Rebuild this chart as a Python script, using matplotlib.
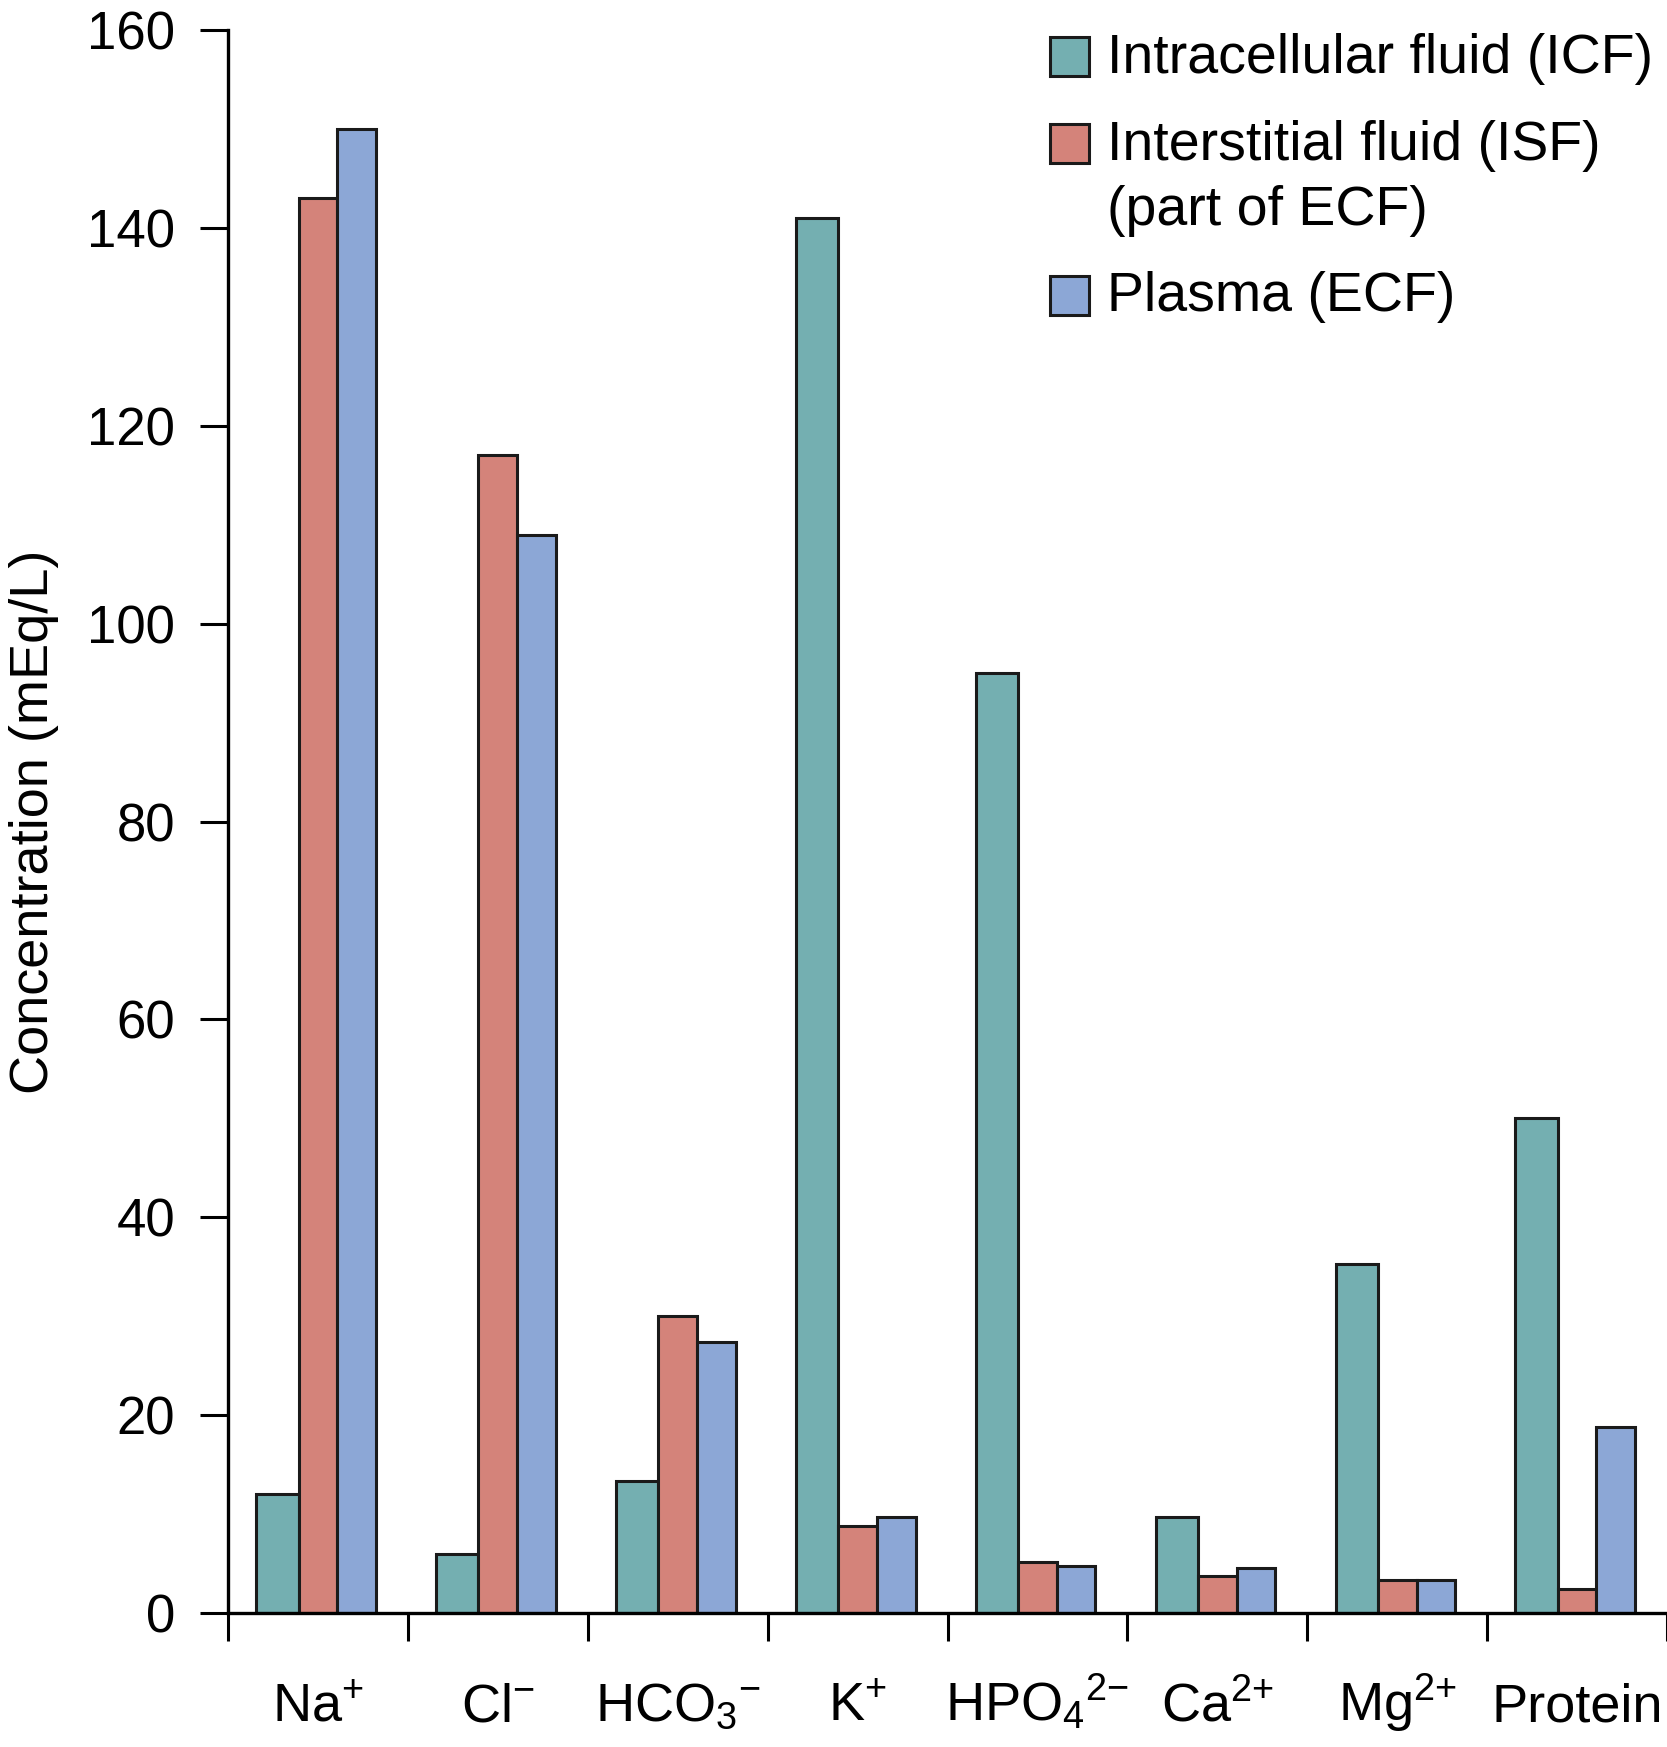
import matplotlib
matplotlib.use("Agg")
import matplotlib.pyplot as plt
from matplotlib.patches import Rectangle
import matplotlib.transforms as mtransforms
import numpy as np

plt.rcParams['font.family'] = ['Liberation Sans', 'DejaVu Sans']
plt.rcParams['mathtext.fontset'] = 'custom'
plt.rcParams['mathtext.rm'] = 'Liberation Sans'
plt.rcParams['mathtext.it'] = 'Liberation Sans'
plt.rcParams['mathtext.bf'] = 'Liberation Sans:bold'

# ---- data ----
categories = ["Na$^{\\text{+}}$", "Cl$^{\\text{\u2212}}$",
              "HCO$_{\\text{3}}$$^{\\text{\u2212}}$", "K$^{\\text{+}}$",
              "HPO$_{\\text{4}}$$^{\\text{2\u2212}}$", "Ca$^{\\text{2+}}$",
              "Mg$^{\\text{2+}}$", "Protein"]
icf = [12, 6, 13.3, 141, 95, 9.7, 35.3, 50]
isf = [143, 117, 30, 8.8, 5.2, 3.7, 3.3, 2.4]
plasma = [150, 109, 27.4, 9.7, 4.8, 4.5, 3.3, 18.8]
series_labels = ["Intracellular fluid (ICF)", "Interstitial fluid (ISF)",
                 "(part of ECF)", "Plasma (ECF)"]
yticks = [0, 20, 40, 60, 80, 100, 120, 140, 160]

colors = ["#74AFB1", "#D4837A", "#8CA7D6"]
edge = "#1a1a1a"

W, H = 1667, 1747
fig = plt.figure(figsize=(W / 100, H / 100), dpi=100)
ax = fig.add_axes([228 / W, (H - 1613) / H, (W - 228) / W, (1613 - 30) / H])

n = len(categories)
centers = np.arange(n) + 0.5
widths = [0.235, 0.215, 0.215]
left = centers - 0.01 - sum(widths) / 2
offset = 0.0
for vals, c, w in zip([icf, isf, plasma], colors, widths):
    ax.bar(left + offset, vals, width=w, align='edge', color=c,
           edgecolor=edge, linewidth=2.2, zorder=2)
    offset += w

ax.set_xlim(0, n)
ax.set_ylim(0, 160)
ax.spines['top'].set_visible(False)
ax.spines['right'].set_visible(False)
ax.spines['left'].set_linewidth(2.4)
ax.spines['bottom'].set_linewidth(2.4)
ax.spines['left'].set_zorder(3)
ax.spines['bottom'].set_zorder(3)

ax.set_yticks(yticks)
ax.set_yticklabels([str(v) for v in yticks], fontsize=38)
ax.tick_params(axis='y', length=20, width=2.2, pad=18, direction='out')
ax.set_xticks(np.arange(n + 1))
ax.set_xticklabels([])
ax.tick_params(axis='x', length=20, width=2.2, direction='out')

trans = mtransforms.blended_transform_factory(ax.transData, ax.transAxes)
for x, lab in zip(centers, categories):
    ax.text(x, -108 / 1583, lab, transform=trans, ha='center',
            va='baseline', fontsize=39)

ax.set_ylabel("Concentration (mEq/L)", fontsize=39, labelpad=20)

# ---- legend ----
def fx(px):
    return px / W

def fy(py):
    return (H - py) / H

patch_y = [56.5, 143, 295]
for c, py in zip(colors, patch_y):
    fig.add_artist(Rectangle((fx(1050), fy(py + 19.5)), 39 / W, 39 / H,
                             transform=fig.transFigure, facecolor=c,
                             edgecolor=edge, linewidth=2.2))
text_y = [59, 146, 211, 297]
for lab, ty in zip(series_labels, text_y):
    fig.text(fx(1107), fy(ty), lab, ha='left', va='center', fontsize=40)

fig.savefig("out.png", dpi=100)
